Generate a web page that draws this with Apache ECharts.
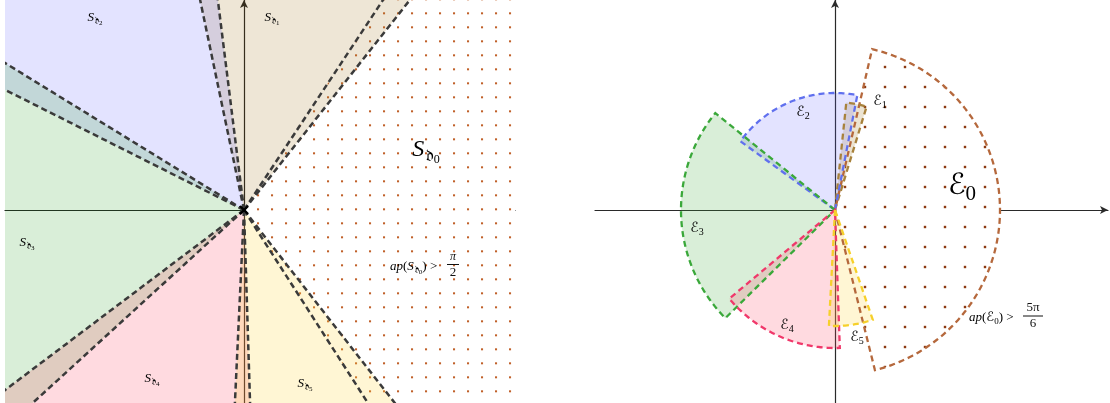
<!DOCTYPE html>
<html><head><meta charset="utf-8">
<script src="https://cdn.jsdelivr.net/npm/echarts@6/dist/echarts.min.js"></script>
<style>html,body{margin:0;padding:0;background:#fff}#c{width:1110px;height:403px}</style>
</head><body><div id="c"></div>
<script>
// ---------- DATA ----------
// Left panel: angular sectors S_d0..S_d5 (degrees, from the origin)
const leftStartDeg = [-57.3, 51.7, 97.1, 148.4, 217.0, 267.3];
const leftEndDeg   = [56.5, 101.8, 153.3, 222.4, 271.8, 308.0];
// Right panel: circular sectors E0..E5
const rightStartDeg = [-76.0, 73.0, 79.0, 141.0, 220.0, 267.0];
const rightEndDeg   = [77.0, 84.0, 144.0, 224.6, 272.0, 289.0];
const rightRadius   = [1.65, 1.08, 1.17, 1.54, 1.38, 1.16];
// Label anchors (data units) and subscripts
const leftLabelSub = ['0', '1', '2', '3', '4', '5'];
const leftLabelX   = [1.82, 0.28, -1.49, -2.17, -0.92, 0.61];
const leftLabelY   = [0.60, 1.92, 1.92, -0.33, -1.69, -1.74];
const rightLabelSub = ['0', '1', '2', '3', '4', '5'];
const rightLabelX   = [1.27, 0.45, -0.32, -1.38, -0.48, 0.22];
const rightLabelY   = [0.24, 1.09, 0.98, -0.18, -1.15, -1.27];
// Inequality annotations
const leftIneqPos  = [1.46, -0.57];
const leftFracPos  = [2.09, -0.545];
const leftFrac     = ['π', '2'];
const rightIneqPos = [1.34, -1.08];
const rightFracPos = [1.98, -1.06];
const rightFrac    = ['5π', '6'];

// ---------- STYLE ----------
const SERIF = '"Liberation Serif","DejaVu Serif",serif';
const leftFill = ['#ffffff', 'rgba(170,130,50,0.2)', 'rgba(100,100,255,0.18)', 'rgba(65,170,60,0.2)', 'rgba(255,70,100,0.2)', 'rgba(255,215,60,0.22)'];
const rightFill = ['#ffffff', 'rgba(170,130,50,0.22)', 'rgba(100,100,255,0.18)', 'rgba(65,170,60,0.2)', 'rgba(255,70,100,0.2)', 'rgba(255,215,60,0.22)'];
const rightStroke = ['#b5683c', '#a8823c', '#6070ee', '#3aa83a', '#f0386a', '#f6d02a'];

function dotCanvas(spacing, size, color) {
  const c = document.createElement('canvas');
  c.width = spacing; c.height = spacing;
  const g = c.getContext('2d');
  g.fillStyle = color;
  g.fillRect((spacing - size) / 2, (spacing - size) / 2, size, size);
  return c;
}
const leftDots = dotCanvas(14, 2, '#c0602a');
const rightDots = dotCanvas(20, 2.4, '#8b3a12');

function wedge(api, a0, a1, r) {
  const pts = [api.coord([0, 0])];
  const n = Math.max(2, Math.ceil(Math.abs(a1 - a0)));
  for (let i = 0; i <= n; i++) {
    const a = (a0 + (a1 - a0) * i / n) * Math.PI / 180;
    pts.push(api.coord([r * Math.cos(a), r * Math.sin(a)]));
  }
  return pts;
}
function ray(api, a, r) {
  const t = a * Math.PI / 180;
  return api.coord([r * Math.cos(t), r * Math.sin(t)]);
}

function subRich(F) {
  return {
    m: { fontSize: F, fontStyle: 'italic', fontFamily: SERIF, color: '#111', lineHeight: Math.round(F * 1.3) },
    r: { fontSize: F, fontFamily: SERIF, color: '#111', lineHeight: Math.round(F * 1.3) },
    s: { fontSize: Math.round(F * 0.72), fontFamily: SERIF, color: '#111', verticalAlign: 'bottom', lineHeight: Math.round(F * 0.78), padding: [0, 0, 0, Math.max(1, F * 0.06)] },
    n: { fontSize: Math.max(7, Math.round(F * 0.52)), fontFamily: SERIF, color: '#111', verticalAlign: 'bottom', lineHeight: Math.round(F * 0.4) },
    e: { fontSize: F, fontFamily: '"DejaVu Serif","DejaVu Sans",serif', color: '#111', lineHeight: Math.round(F * 1.3) },
    q: { fontSize: Math.round(F * 0.72), fontFamily: SERIF, color: '#111', verticalAlign: 'bottom', lineHeight: Math.round(F * 0.6) }
  };
}

const chart = echarts.init(document.getElementById('c'), null, { renderer: 'canvas' });

const axisCommon = { type: 'value', axisTick: { show: false }, axisLabel: { show: false }, splitLine: { show: false } };

const option = {
  animation: false,
  backgroundColor: '#ffffff',
  grid: [
    { left: 5, top: 0, width: 510, height: 403 },
    { left: 595, top: 0, width: 513, height: 403 }
  ],
  xAxis: [
    Object.assign({}, axisCommon, { gridIndex: 0, min: -2.39, max: 2.71, axisLine: { onZero: true, lineStyle: { color: '#1a1a1a', width: 1.2 } } }),
    Object.assign({}, axisCommon, { gridIndex: 1, min: -2.40, max: 2.73, axisLine: { onZero: true, symbol: ['none', 'arrow'], symbolSize: [6, 8], lineStyle: { color: '#2a2a2a', width: 1.2 } } })
  ],
  yAxis: [
    Object.assign({}, axisCommon, { gridIndex: 0, min: -1.93, max: 2.10, axisLine: { onZero: true, symbol: ['none', 'arrow'], symbolSize: [6, 8], lineStyle: { color: '#1a1a1a', width: 1.2 } } }),
    Object.assign({}, axisCommon, { gridIndex: 1, min: -1.93, max: 2.10, axisLine: { onZero: true, symbol: ['none', 'arrow'], symbolSize: [6, 8], lineStyle: { color: '#2a2a2a', width: 1.2 } } })
  ],
  series: [
    // left fills
    {
      type: 'custom', xAxisIndex: 0, yAxisIndex: 0, clip: true, silent: true, z: 2,
      data: leftStartDeg.map((s, i) => [s, leftEndDeg[i], i]),
      renderItem: function (params, api) {
        const i = api.value(2);
        const pts = wedge(api, api.value(0), api.value(1), 12);
        const o = api.coord([0, 0]);
        const children = [{ type: 'polygon', shape: { points: pts }, style: { fill: leftFill[i] } }];
        if (i === 0) {
          children.push({ type: 'polygon', shape: { points: pts }, style: { fill: { image: leftDots, repeat: 'repeat', x: o[0] - 7, y: o[1] - 7.7 } } });
        }
        return { type: 'group', children: children };
      }
    },
    // left dashed boundary rays
    {
      type: 'custom', xAxisIndex: 0, yAxisIndex: 0, clip: true, silent: true, z: 3,
      data: leftStartDeg.map((s, i) => [s, leftEndDeg[i], i]),
      renderItem: function (params, api) {
        const o = api.coord([0, 0]);
        const a = ray(api, api.value(0), 12), b = ray(api, api.value(1), 12);
        const st = { stroke: '#3a3a3a', lineWidth: 2.5, lineDash: [6, 3.6] };
        return {
          type: 'group', children: [
            { type: 'line', shape: { x1: o[0], y1: o[1], x2: a[0], y2: a[1] }, style: st },
            { type: 'line', shape: { x1: o[0], y1: o[1], x2: b[0], y2: b[1] }, style: st }
          ]
        };
      }
    },
    // left origin cross
    {
      type: 'custom', xAxisIndex: 0, yAxisIndex: 0, silent: true, z: 4,
      data: [[0, 0]],
      renderItem: function (params, api) {
        const o = api.coord([api.value(0), api.value(1)]);
        const d = 4;
        return {
          type: 'group', children: [
            { type: 'line', shape: { x1: o[0] - d, y1: o[1] - d, x2: o[0] + d, y2: o[1] + d }, style: { stroke: '#000', lineWidth: 2.4 } },
            { type: 'line', shape: { x1: o[0] - d, y1: o[1] + d, x2: o[0] + d, y2: o[1] - d }, style: { stroke: '#000', lineWidth: 2.4 } }
          ]
        };
      }
    },
    // left labels
    {
      type: 'custom', xAxisIndex: 0, yAxisIndex: 0, silent: true, z: 5,
      data: leftLabelX.map((x, i) => [x, leftLabelY[i], i]),
      renderItem: function (params, api) {
        const i = api.value(2);
        const p = api.coord([api.value(0), api.value(1)]);
        const F = i === 0 ? 24 : 13;
        return {
          type: 'text', x: p[0], y: p[1],
          style: { text: '{m|S}{s|𝔡}{n|' + leftLabelSub[i] + '}', rich: subRich(F), align: 'center', verticalAlign: 'middle' }
        };
      }
    },
    // left inequality + fraction
    {
      type: 'custom', xAxisIndex: 0, yAxisIndex: 0, silent: true, z: 5,
      data: [[leftIneqPos[0], leftIneqPos[1], leftFracPos[0], leftFracPos[1]]],
      renderItem: function (params, api) {
        const p = api.coord([api.value(0), api.value(1)]);
        const f = api.coord([api.value(2), api.value(3)]);
        return {
          type: 'group', children: [
            { type: 'text', x: p[0], y: p[1], style: { text: '{m|ap}{r|(}{m|S}{s|𝔡}{n|0}{r|) >}', rich: subRich(13), align: 'left', verticalAlign: 'middle' } },
            { type: 'text', x: f[0], y: f[1] - 1.5, style: { text: leftFrac[0], font: 'italic 12px ' + SERIF, fill: '#111', align: 'center', verticalAlign: 'bottom' } },
            { type: 'line', shape: { x1: f[0] - 6, y1: f[1], x2: f[0] + 6, y2: f[1] }, style: { stroke: '#111', lineWidth: 1 } },
            { type: 'text', x: f[0], y: f[1] + 1.5, style: { text: leftFrac[1], font: '13px ' + SERIF, fill: '#111', align: 'center', verticalAlign: 'top' } }
          ]
        };
      }
    },
    // right fills
    {
      type: 'custom', xAxisIndex: 1, yAxisIndex: 1, clip: true, silent: true, z: 2,
      data: rightStartDeg.map((s, i) => [s, rightEndDeg[i], rightRadius[i], i]),
      renderItem: function (params, api) {
        const i = api.value(3);
        const pts = wedge(api, api.value(0), api.value(1), api.value(2));
        const o = api.coord([0, 0]);
        const children = [{ type: 'polygon', shape: { points: pts }, style: { fill: rightFill[i] } }];
        if (i === 0) {
          children.push({ type: 'polygon', shape: { points: pts }, style: { fill: { image: rightDots, repeat: 'repeat', x: o[0], y: o[1] - 13 } } });
        }
        return { type: 'group', children: children };
      }
    },
    // right dashed outlines
    {
      type: 'custom', xAxisIndex: 1, yAxisIndex: 1, clip: true, silent: true, z: 3,
      data: rightStartDeg.map((s, i) => [s, rightEndDeg[i], rightRadius[i], i]),
      renderItem: function (params, api) {
        const i = api.value(3);
        const pts = wedge(api, api.value(0), api.value(1), api.value(2));
        return { type: 'polygon', shape: { points: pts }, style: { fill: null, stroke: rightStroke[i], lineWidth: 2.3, lineDash: [6, 4] } };
      }
    },
    // right labels
    {
      type: 'custom', xAxisIndex: 1, yAxisIndex: 1, silent: true, z: 5,
      data: rightLabelX.map((x, i) => [x, rightLabelY[i], i]),
      renderItem: function (params, api) {
        const i = api.value(2);
        const p = api.coord([api.value(0), api.value(1)]);
        const F = i === 0 ? 29 : 14;
        return {
          type: 'text', x: p[0], y: p[1],
          style: { text: '{e|ℰ}{q|' + rightLabelSub[i] + '}', rich: subRich(F), align: 'center', verticalAlign: 'middle' }
        };
      }
    },
    // right inequality + fraction
    {
      type: 'custom', xAxisIndex: 1, yAxisIndex: 1, silent: true, z: 5,
      data: [[rightIneqPos[0], rightIneqPos[1], rightFracPos[0], rightFracPos[1]]],
      renderItem: function (params, api) {
        const p = api.coord([api.value(0), api.value(1)]);
        const f = api.coord([api.value(2), api.value(3)]);
        return {
          type: 'group', children: [
            { type: 'text', x: p[0], y: p[1], style: { text: '{m|ap}{r|(}{e|ℰ}{q|0}{r|) >}', rich: subRich(13), align: 'left', verticalAlign: 'middle' } },
            { type: 'text', x: f[0], y: f[1] - 1.5, style: { text: rightFrac[0], font: '13px ' + SERIF, fill: '#111', align: 'center', verticalAlign: 'bottom' } },
            { type: 'line', shape: { x1: f[0] - 10, y1: f[1], x2: f[0] + 10, y2: f[1] }, style: { stroke: '#111', lineWidth: 1 } },
            { type: 'text', x: f[0], y: f[1] + 1.5, style: { text: rightFrac[1], font: '13px ' + SERIF, fill: '#111', align: 'center', verticalAlign: 'top' } }
          ]
        };
      }
    }
  ]
};
chart.setOption(option);
</script>
</body></html>
